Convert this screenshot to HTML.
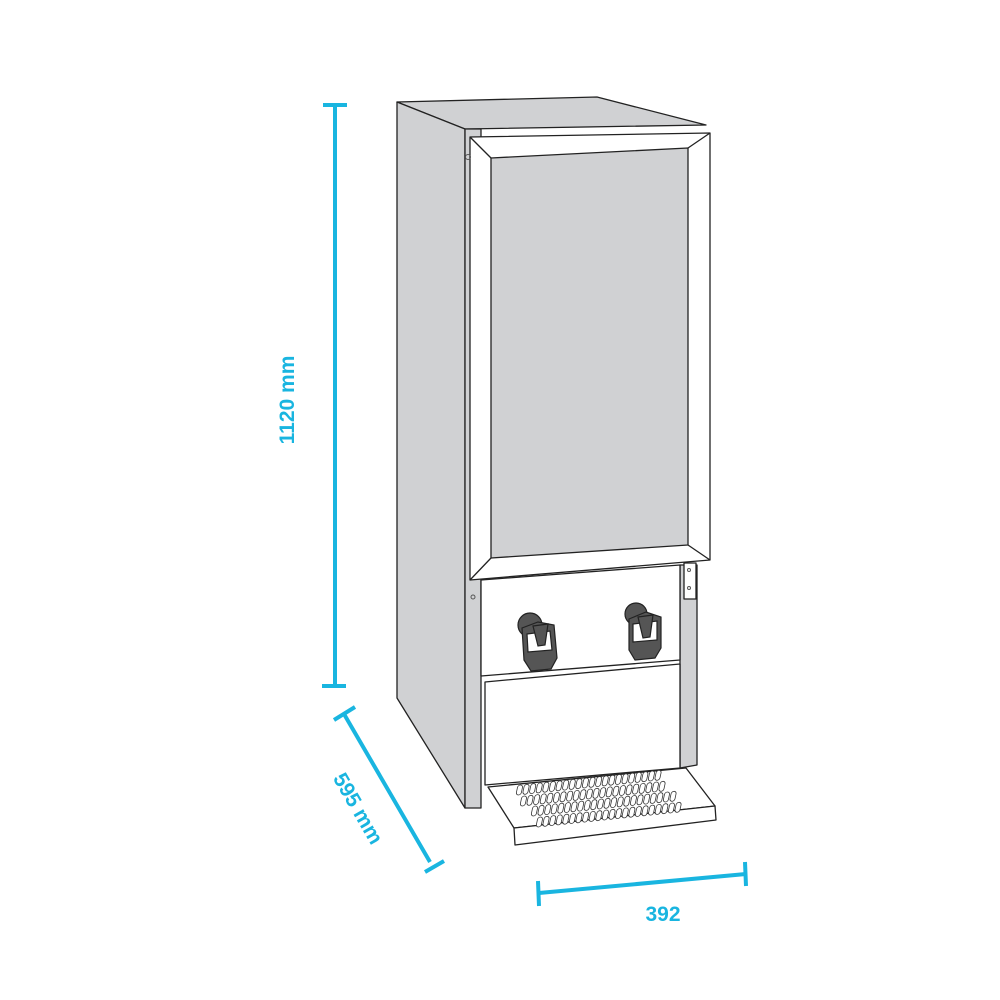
<!DOCTYPE html>
<html><head><style>
html,body{margin:0;padding:0;background:#fff;width:1000px;height:1000px;overflow:hidden}
svg{display:block}
text{font-family:"Liberation Sans",sans-serif;font-weight:bold;fill:#19b5e0;font-size:21px}
</style></head><body>
<svg width="1000" height="1000" viewBox="0 0 1000 1000">
<defs>
<g id="slot"><rect x="0" y="0" width="5" height="10" rx="2.5" transform="skewX(-12)" fill="#fff" stroke="#333" stroke-width="0.8"/></g>
<g id="row">
<use href="#slot" x="0" y="0"/><use href="#slot" x="6.6" y="-0.7"/><use href="#slot" x="13.2" y="-1.4"/><use href="#slot" x="19.8" y="-2.1"/><use href="#slot" x="26.4" y="-2.8"/><use href="#slot" x="33" y="-3.5"/><use href="#slot" x="39.6" y="-4.2"/><use href="#slot" x="46.2" y="-4.9"/><use href="#slot" x="52.8" y="-5.6"/><use href="#slot" x="59.4" y="-6.3"/><use href="#slot" x="66" y="-7"/><use href="#slot" x="72.6" y="-7.7"/><use href="#slot" x="79.2" y="-8.4"/><use href="#slot" x="85.8" y="-9.1"/><use href="#slot" x="92.4" y="-9.8"/><use href="#slot" x="99" y="-10.5"/><use href="#slot" x="105.6" y="-11.2"/><use href="#slot" x="112.2" y="-11.9"/><use href="#slot" x="118.8" y="-12.6"/><use href="#slot" x="125.4" y="-13.3"/><use href="#slot" x="132" y="-14"/><use href="#slot" x="138.6" y="-14.7"/>
</g>
</defs>
<g stroke="#222" stroke-width="1.3" stroke-linejoin="round">
<polygon points="397,102 597,97 706,125 465,129" fill="#d0d1d3"/>
<polygon points="397,102 465,129 465,808 397,698" fill="#d0d1d3"/>
<rect x="465" y="129" width="16" height="679" fill="#d0d1d3"/>
<polygon points="680,565 697,565 697,765 680,768" fill="#d0d1d3"/>
<polygon points="485,682 680,664 680,768 485,785" fill="#fff"/>
<polygon points="481,580 680,565 680,660 481,676" fill="#fff"/>
<rect x="684" y="563" width="12" height="36" fill="#fff"/>
<polygon points="470,137 710,133 710,560 470,580" fill="#fff"/>
<line x1="470" y1="137" x2="491" y2="158"/>
<line x1="710" y1="133" x2="688" y2="148"/>
<line x1="470" y1="580" x2="491" y2="558"/>
<line x1="710" y1="560" x2="688" y2="545"/>
<polygon points="491,158 688,148 688,545 491,558" fill="#d0d1d3"/>
<polygon points="488,787 686,768 715,806 514,828" fill="#fff"/>
<polygon points="514,828 715,806 716,820 515,845" fill="#fff"/>
</g>
<use href="#row" x="518" y="785"/>
<use href="#row" x="522" y="796"/>
<use href="#row" x="533" y="806"/>
<use href="#row" x="538" y="817"/>
<g fill="none" stroke="#555" stroke-width="1">
<circle cx="468" cy="157" r="2.5"/><circle cx="473" cy="597" r="2"/><circle cx="689" cy="570" r="1.5"/><circle cx="689" cy="588" r="1.5"/>
</g>
<g stroke="#222" stroke-width="1.2">
<circle cx="530" cy="625" r="12" fill="#555"/>
<path d="M522,628 L538,622 L554,625 L557,658 L551,669 L531,671 L524,660 Z" fill="#555"/>
<path d="M527,634 L550,631 L552,650 L528,652 Z" fill="#fff"/>
<path d="M533,626 L548,624 L545,645 L538,646 Z" fill="#555"/>
<circle cx="636" cy="614" r="11" fill="#555"/>
<path d="M629,619 L646,612 L661,617 L661,648 L655,658 L635,660 L629,650 Z" fill="#555"/>
<path d="M633,624 L657,621 L657,640 L633,642 Z" fill="#fff"/>
<path d="M638,617 L653,615 L650,637 L643,638 Z" fill="#555"/>
</g>
<g stroke="#19b5e0" stroke-width="4" fill="none">
<line x1="335" y1="105" x2="335" y2="686"/>
<line x1="323" y1="105" x2="347" y2="105"/>
<line x1="322" y1="686" x2="346" y2="686"/>
<line x1="344" y1="714" x2="430" y2="862"/>
<line x1="334" y1="720" x2="355" y2="707"/>
<line x1="425" y1="872" x2="444" y2="861"/>
<line x1="539" y1="893" x2="746" y2="874"/>
<line x1="538" y1="881" x2="539" y2="906"/>
<line x1="745" y1="862" x2="746" y2="886"/>
</g>
<text transform="translate(294,400) rotate(-90)" text-anchor="middle">1120 mm</text>
<text transform="translate(352,812) rotate(60)" text-anchor="middle">595 mm</text>
<text x="663" y="921" text-anchor="middle">392</text>
</svg>
</body></html>
